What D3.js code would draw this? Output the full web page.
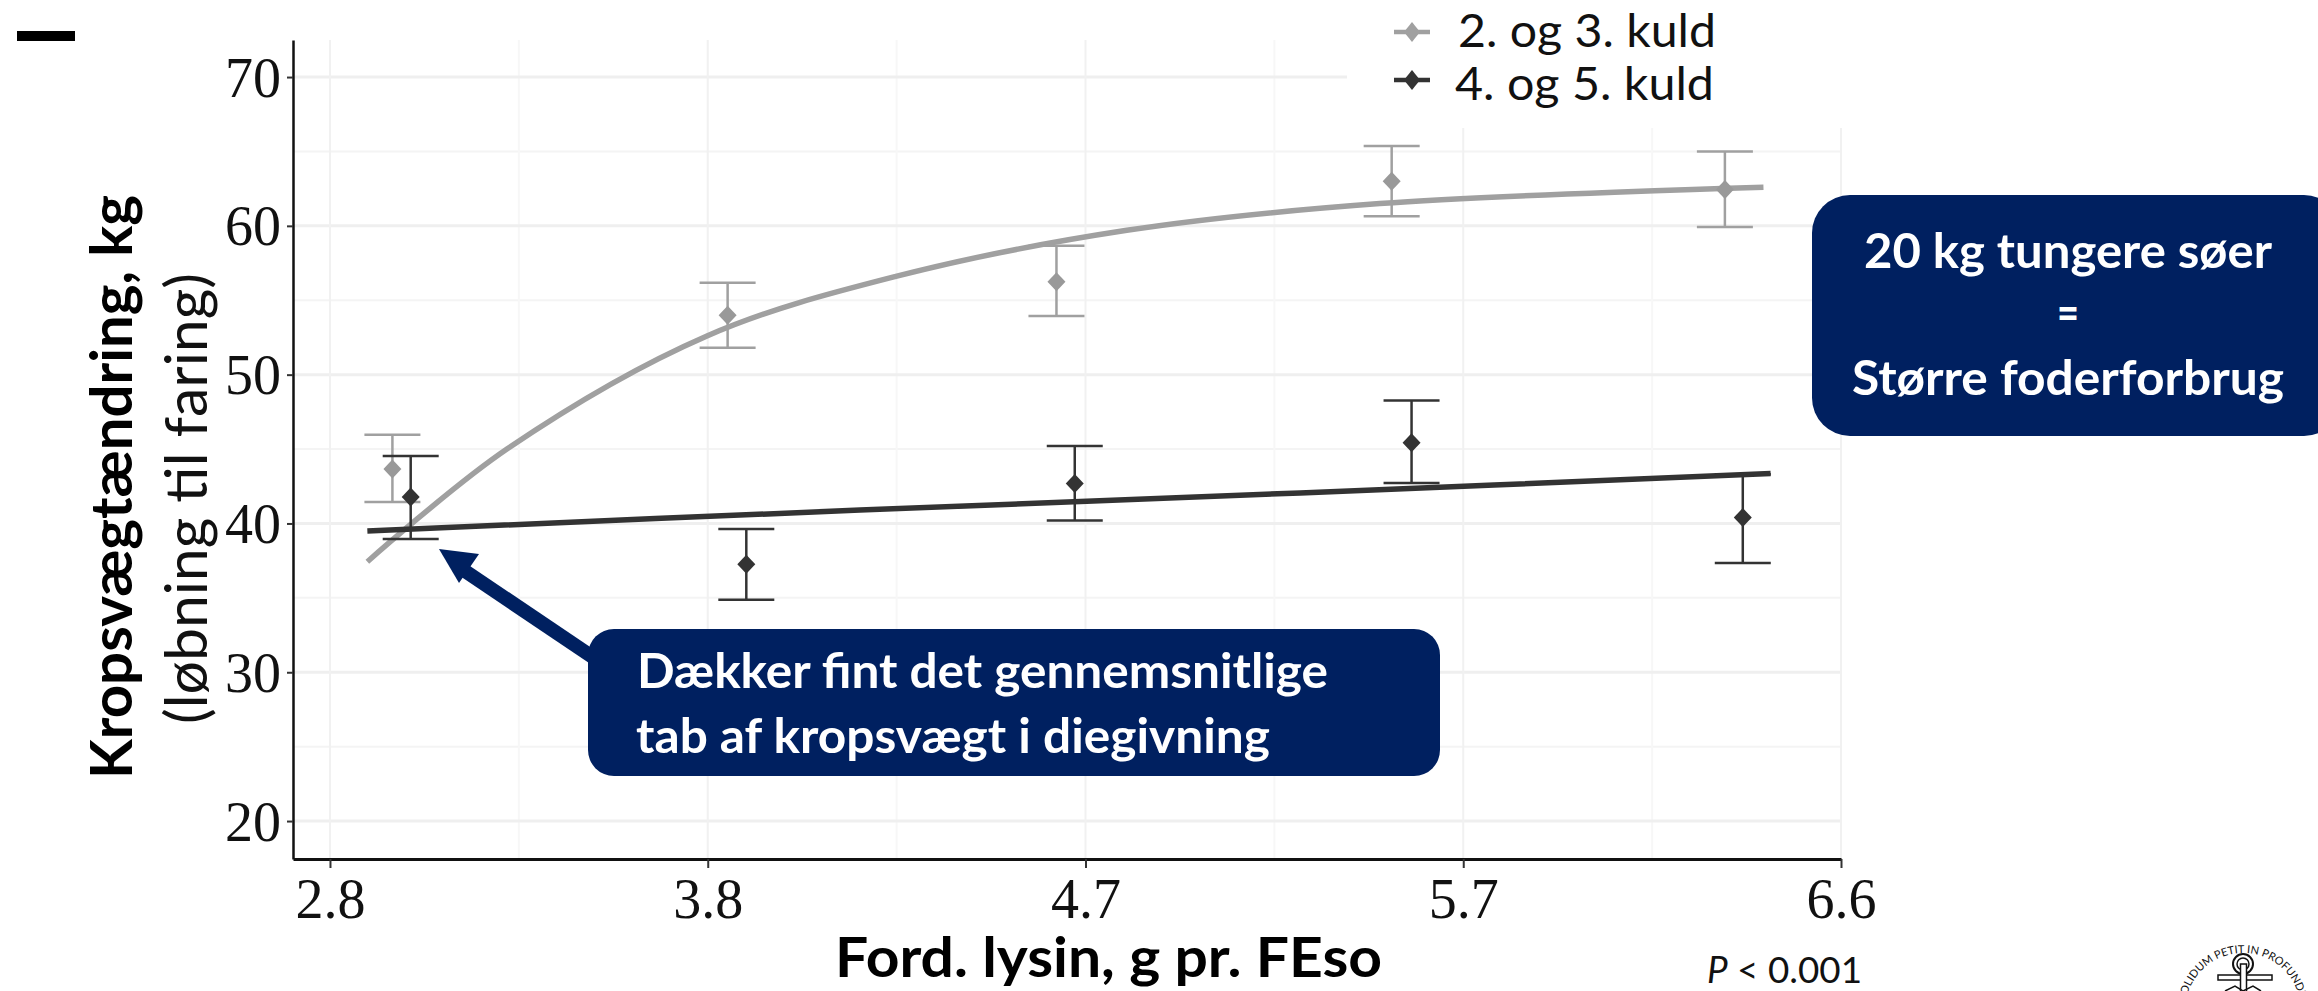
<!DOCTYPE html>
<html lang="da">
<head>
<meta charset="utf-8">
<title>Kropsvægtændring</title>
<script src="https://cdn.jsdelivr.net/npm/d3@7"></script>
<style>
html,body{margin:0;padding:0;background:#fff;overflow:hidden}
svg{display:block}
text{font-family:Lato,"Open Sans",sans-serif}
.tick text{font-family:"Liberation Serif",serif;font-size:56px;fill:#111}
</style>
</head>
<body>
<svg id="c" width="2318" height="991"></svg>
<script>
const xTickValues = [2.8, 3.75, 4.7, 5.65, 6.6];
const xTickLabels = ["2.8", "3.8", "4.7", "5.7", "6.6"];
const xMinor = [3.275, 4.225, 5.175, 6.125];
const yTickValues = [20, 30, 40, 50, 60, 70];
const yMinor = [25, 35, 45, 55, 65];

const seriesNames = ["2. og 3. kuld", "4. og 5. kuld"];

const x1 = [2.957, 3.80, 4.627, 5.47, 6.308];
const mean1 = [43.66, 54.0, 56.25, 62.99, 62.44];
const low1 = [41.45, 51.8, 53.94, 60.65, 59.92];
const high1 = [45.96, 56.18, 58.66, 65.37, 65.0];

const x2 = [3.003, 3.847, 4.673, 5.52, 6.353];
const mean2 = [41.78, 37.25, 42.68, 45.42, 40.4];
const low2 = [38.96, 34.87, 40.2, 42.72, 37.34];
const high2 = [44.54, 39.63, 45.2, 48.26, 43.3];

const curve1X = [2.894, 3.245, 3.748, 4.223, 4.804, 5.44, 6.405];
const curve1Y = [37.43, 45.0, 52.6, 56.6, 59.7, 61.5, 62.6];
const curve2X = [2.894, 4.133, 5.24, 6.423];
const curve2Y = [39.5, 40.9, 42.05, 43.35];

const color1 = "#a0a0a0", color2 = "#333333", navy = "#002060";

const svg = d3.select("#c");
const x = d3.scaleLinear().domain([2.707, 6.6]).range([293, 1841]);
const y = d3.scaleLinear().domain([17.45, 72.49]).range([859, 40]);

// Grid
const grid = svg.append("g").attr("fill", "none");
grid.selectAll(".hmin").data(yMinor).join("line")
  .attr("x1", 293).attr("x2", 1841).attr("y1", y).attr("y2", y)
  .attr("stroke", "#f4f4f4").attr("stroke-width", 2);
grid.selectAll(".vmin").data(xMinor).join("line")
  .attr("x1", x).attr("x2", x).attr("y1", 40).attr("y2", 859)
  .attr("stroke", "#f7f7f7").attr("stroke-width", 2);
grid.selectAll(".hmaj").data(yTickValues).join("line")
  .attr("x1", 293).attr("x2", 1841).attr("y1", y).attr("y2", y)
  .attr("stroke", "#efefef").attr("stroke-width", 3);
grid.selectAll(".vmaj").data(xTickValues).join("line")
  .attr("x1", x).attr("x2", x).attr("y1", 40).attr("y2", 859)
  .attr("stroke", "#f1f1f1").attr("stroke-width", 2);

// Legend backing
svg.append("rect").attr("x", 1347).attr("y", 0).attr("width", 520).attr("height", 128).attr("fill", "#fff");

// Axes
const axL = svg.append("g").attr("transform", "translate(293,0)")
  .call(d3.axisLeft(y).tickValues(yTickValues).tickSize(6).tickPadding(8).tickSizeOuter(0));
const axB = svg.append("g").attr("transform", "translate(0,859)")
  .call(d3.axisBottom(x).tickValues(xTickValues).tickFormat((d, i) => xTickLabels[i]).tickSize(9).tickPadding(8).tickSizeOuter(0));
axL.select(".domain").attr("stroke", "#111").attr("stroke-width", 2.5);
axB.select(".domain").attr("stroke", "#111").attr("stroke-width", 3);
axL.selectAll(".tick line").attr("stroke", "#333").attr("stroke-width", 2);
axB.selectAll(".tick line").attr("stroke", "#333").attr("stroke-width", 2);
axB.selectAll(".tick text").attr("dy", null).attr("y", 59);
axL.selectAll(".tick text").attr("dy", null).attr("y", 19).attr("x", -12);

// Series
const line = d3.line().x(d => x(d[0])).y(d => y(d[1])).curve(d3.curveCatmullRom.alpha(0.5));

function drawSeries(xs, means, lows, highs, cx, cy, col, lw) {
  const g = svg.append("g");
  const pts = xs.map((v, i) => ({ x: v, m: means[i], lo: lows[i], hi: highs[i] }));
  g.selectAll(".stem").data(pts).join("line")
    .attr("x1", d => x(d.x)).attr("x2", d => x(d.x))
    .attr("y1", d => y(d.lo)).attr("y2", d => y(d.hi))
    .attr("stroke", col).attr("stroke-width", 2.5);
  g.selectAll(".capL").data(pts).join("line")
    .attr("x1", d => x(d.x) - 28).attr("x2", d => x(d.x) + 28)
    .attr("y1", d => y(d.lo)).attr("y2", d => y(d.lo))
    .attr("stroke", col).attr("stroke-width", 2.5);
  g.selectAll(".capH").data(pts).join("line")
    .attr("x1", d => x(d.x) - 28).attr("x2", d => x(d.x) + 28)
    .attr("y1", d => y(d.hi)).attr("y2", d => y(d.hi))
    .attr("stroke", col).attr("stroke-width", 2.5);
  g.append("path").attr("d", line(cx.map((v, i) => [v, cy[i]])))
    .attr("fill", "none").attr("stroke", col).attr("stroke-width", lw);
  g.selectAll(".pt").data(pts).join("path")
    .attr("d", "M0,-9.5L9,0L0,9.5L-9,0Z")
    .attr("transform", d => `translate(${x(d.x)},${y(d.m)})`)
    .attr("fill", col === color1 ? "#999" : col);
}
drawSeries(x1, mean1, low1, high1, curve1X, curve1Y, color1, 5.5);
drawSeries(x2, mean2, low2, high2, curve2X, curve2Y, color2, 5.5);

// Legend
[[color1, 32, 47, 1458, 258], [color2, 80, 100, 1455, 259]].forEach((l, i) => {
  svg.append("line").attr("x1", 1394).attr("x2", 1430).attr("y1", l[1]).attr("y2", l[1])
    .attr("stroke", l[0]).attr("stroke-width", 4.5);
  svg.append("path").attr("d", "M0,-10L8,0L0,10L-8,0Z")
    .attr("transform", `translate(1412,${l[1]})`).attr("fill", l[0]);
  svg.append("text").text(seriesNames[i]).attr("x", l[3]).attr("y", l[2])
    .attr("font-size", 46).attr("fill", "#111")
    .attr("textLength", l[4]).attr("lengthAdjust", "spacingAndGlyphs");
});

// Axis titles
svg.append("text").text("Kropsvægtændring, kg")
  .attr("transform", "translate(132,779) rotate(-90)")
  .attr("font-size", 58).attr("font-weight", 700).attr("fill", "#000")
  .attr("textLength", 584).attr("lengthAdjust", "spacingAndGlyphs");
svg.append("text").text("(løbning til faring)")
  .attr("transform", "translate(207,724) rotate(-90)")
  .attr("font-size", 58).attr("fill", "#111")
  .attr("textLength", 451).attr("lengthAdjust", "spacingAndGlyphs");
svg.append("text").text("Ford. lysin, g pr. FEso")
  .attr("x", 835).attr("y", 977)
  .attr("font-size", 56).attr("font-weight", 700).attr("fill", "#000")
  .attr("textLength", 547).attr("lengthAdjust", "spacingAndGlyphs");
const pv = svg.append("text").attr("x", 1707).attr("y", 983).attr("font-size", 36).attr("fill", "#111")
  .attr("textLength", 155).attr("lengthAdjust", "spacingAndGlyphs");
pv.append("tspan").text("P").attr("font-style", "italic");
pv.append("tspan").text(" < 0.001");

// Arrow
svg.append("line").attr("x1", 462).attr("y1", 569).attr("x2", 600).attr("y2", 662)
  .attr("stroke", navy).attr("stroke-width", 14);
svg.append("path").attr("d", "M439,549L479,554L459,583Z").attr("fill", navy);

// Callouts
svg.append("rect").attr("x", 588).attr("y", 629).attr("width", 852).attr("height", 147).attr("rx", 26).attr("fill", navy);
svg.append("rect").attr("x", 1812).attr("y", 195).attr("width", 530).attr("height", 241).attr("rx", 38).attr("fill", navy);

function wtext(t, px, py, len, anchor) {
  svg.append("text").text(t).attr("x", px).attr("y", py)
    .attr("font-size", 48).attr("font-weight", 700).attr("fill", "#fff")
    .attr("text-anchor", anchor || "start")
    .attr("textLength", len).attr("lengthAdjust", "spacingAndGlyphs");
}
wtext("Dækker fint det gennemsnitlige", 637, 688, 691);
wtext("tab af kropsvægt i diegivning", 636, 753, 634);
wtext("20 kg tungere søer", 1864, 268, 408);
wtext("=", 2057, 330, 22);
wtext("Større foderforbrug", 1852, 395, 432);

// Top-left dash
svg.append("rect").attr("x", 17).attr("y", 31).attr("width", 58).attr("height", 10).attr("fill", "#000");

// Seal, cut by the page bottom as in the reference
const seal = svg.append("g").attr("transform", "translate(2243,1011)");
seal.append("defs").append("path").attr("id", "ring").attr("d", "M0,58A58,58 0 1 1 0,-58A58,58 0 1 1 0,58");
seal.append("text").attr("font-size", 11).attr("font-family", "Open Sans").attr("fill", "#111")
  .append("textPath").attr("href", "#ring").attr("startOffset", "50%").attr("text-anchor", "middle")
  .text("SOLIDUM PETIT IN PROFUNDIS");
seal.append("circle").attr("cy", -47).attr("r", 10).attr("fill", "none").attr("stroke", "#111").attr("stroke-width", 2);
seal.append("circle").attr("cy", -47).attr("r", 6).attr("fill", "none").attr("stroke", "#111").attr("stroke-width", 1.5);
seal.append("rect").attr("x", -25).attr("y", -36).attr("width", 54).attr("height", 5).attr("fill", "#fff").attr("stroke", "#111").attr("stroke-width", 1.5);
seal.append("rect").attr("x", -2.5).attr("y", -47).attr("width", 6).attr("height", 30).attr("fill", "#fff").attr("stroke", "#111").attr("stroke-width", 1.5);
seal.append("path").attr("d", "M-18,-20L-8,-25L0,-20L10,-25L18,-20").attr("fill", "none").attr("stroke", "#111").attr("stroke-width", 1.5);
</script>
</body>
</html>
